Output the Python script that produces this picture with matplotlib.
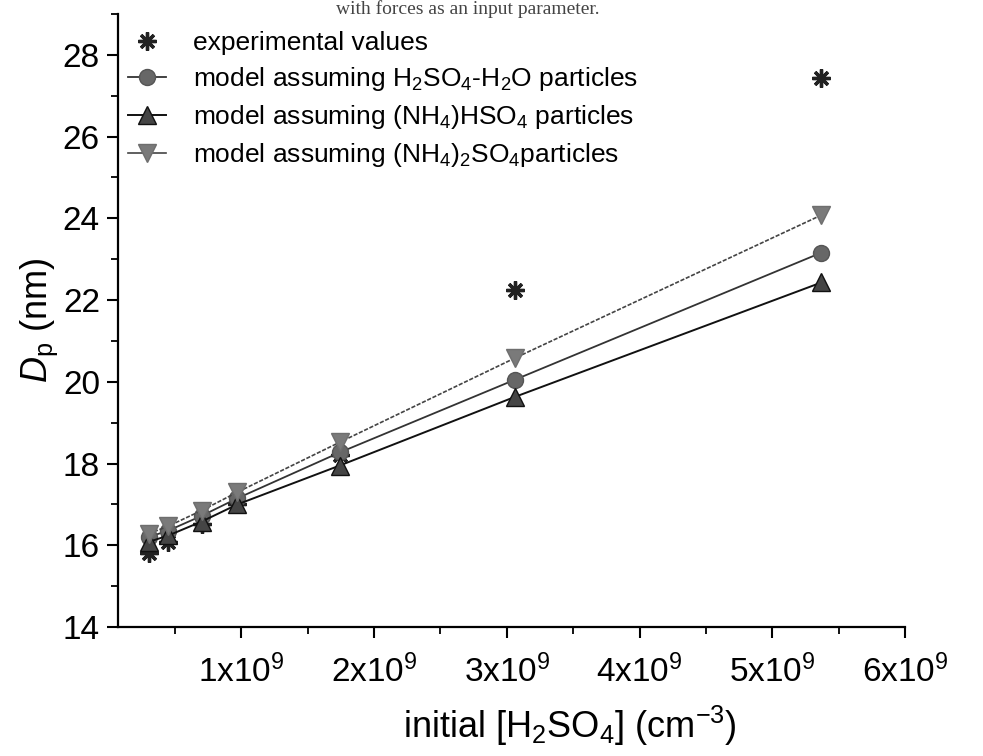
import matplotlib
matplotlib.use("Agg")
import matplotlib.pyplot as plt
from matplotlib.ticker import MultipleLocator, FixedLocator

# data (x in units of 1e9 cm^-3, D_p in nm)
conc = [0.30, 0.45, 0.70, 0.97, 1.74, 3.06, 5.37]
dp_exp = [15.82, 16.07, 16.52, 17.00, 18.20, 22.25, 27.44]
dp_h2so4 = [16.20, 16.36, 16.72, 17.15, 18.27, 20.05, 23.16]
dp_bisulf = [16.08, 16.24, 16.58, 17.00, 17.95, 19.63, 22.43]
dp_ammsulf = [16.28, 16.47, 16.85, 17.30, 18.52, 20.58, 24.08]

x_ticks = [1, 2, 3, 4, 5, 6]
x_ticklabels = [rf"{v}x10$^9$" for v in x_ticks]
y_ticks = [14, 16, 18, 20, 22, 24, 26, 28]

plt.rcParams["font.family"] = ["Liberation Sans", "DejaVu Sans"]
plt.rcParams["mathtext.fontset"] = "custom"
plt.rcParams["mathtext.rm"] = "Liberation Sans"
plt.rcParams["mathtext.it"] = "Liberation Sans:italic"
plt.rcParams["mathtext.bf"] = "Liberation Sans:bold"

fig = plt.figure(figsize=(9.83, 7.56), dpi=100)
ax = fig.add_axes([118 / 983, 1 - 627 / 756, (905 - 118) / 983, (627 - 14) / 756])

ax.plot(conc, dp_exp, linestyle="none", marker=(8, 2, 0), markersize=13,
        markeredgewidth=2.4, color="#222222", label="experimental values", zorder=3)
ax.plot(conc, dp_h2so4, color="#333333", linewidth=1.3, marker="o", markersize=11.5,
        markerfacecolor="#676767", markeredgecolor="#555555",
        label=r"model assuming H$_2$SO$_4$-H$_2$O particles", zorder=4)
ax.plot(conc, dp_bisulf, color="#111111", linewidth=1.4, marker="^", markersize=13,
        markerfacecolor="#454545", markeredgecolor="#111111",
        label=r"model assuming (NH$_4$)HSO$_4$ particles", zorder=5)
ax.plot(conc, dp_ammsulf, color="#444444", linewidth=1.2, linestyle=(0, (2.5, 1)),
        marker="v", markersize=13, markerfacecolor="#7a7a7a", markeredgecolor="#6e6e6e",
        label=r"model assuming (NH$_4$)$_2$SO$_4$particles", zorder=6)

ax.set_xlim(0.07, 6.0)
ax.set_ylim(14, 29)

ax.xaxis.set_major_locator(FixedLocator(x_ticks))
ax.set_xticklabels(x_ticklabels)
ax.xaxis.set_minor_locator(MultipleLocator(0.5))
ax.set_yticks(y_ticks)
ax.yaxis.set_minor_locator(MultipleLocator(1))

for side in ("top", "right"):
    ax.spines[side].set_visible(False)
for side in ("left", "bottom"):
    ax.spines[side].set_linewidth(1.6)

ax.tick_params(which="major", direction="out", length=8, width=1.5, labelsize=24, pad=5)
ax.tick_params(which="minor", direction="out", length=5, width=1.3)
ax.tick_params(axis="x", which="major", pad=12)

ax.set_xlabel(r"initial [H$_2$SO$_4$] (cm$^{-3}$)", fontsize=26)
ax.xaxis.set_label_coords(0.574, -0.125)
ax.set_ylabel(r"$\mathit{D}_{\mathrm{p}}$ (nm)", fontsize=26, labelpad=2)

leg = ax.legend(loc="upper left", bbox_to_anchor=(128 / 983, 1 - 31 / 756),
                bbox_transform=fig.transFigure, frameon=False, fontsize=19,
                handlelength=1.45, handletextpad=1.0, labelspacing=0.38,
                borderpad=0, borderaxespad=0)
# model lines are drawn solid in the reference legend
for line in leg.get_lines()[1:]:
    line.set_linestyle("-")

fig.text(600 / 983, 1.0, "with forces as an input parameter.",
         family="Liberation Serif", fontsize=14, ha="right", va="top", color="#444444")

fig.savefig("out.png", dpi=100)
